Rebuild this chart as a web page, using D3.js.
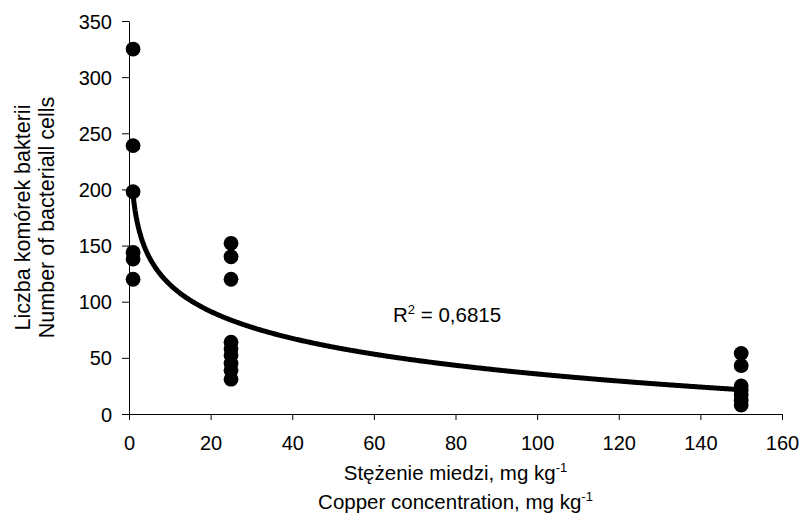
<!DOCTYPE html>
<html>
<head>
<meta charset="utf-8">
<script src="https://cdn.jsdelivr.net/npm/d3@7"></script>
<style>
  body { margin: 0; background: #fff; }
  text { font-family: "Liberation Sans", Arial, sans-serif; fill: #000; }
</style>
</head>
<body>
<svg id="chart"></svg>
<script>
// copper dose groups and measured cell counts
var xGroups = [1, 25, 150];
var countsAt1 = [325, 239, 198, 144, 138, 120];
var countsAt25 = [152, 140, 120, 64, 58, 52, 45, 39, 31];
var countsAt150 = [54, 43, 25, 21, 17, 12, 8];

// log trendline y = a*ln(x) + b
var trendA = -34.6;
var trendB = 195;
var rSquared = "0,6815";

var xTicks = [0, 20, 40, 60, 80, 100, 120, 140, 160];
var yTicks = [0, 50, 100, 150, 200, 250, 300, 350];

var points = [];
[countsAt1, countsAt25, countsAt150].forEach(function (arr, i) {
  arr.forEach(function (v) { points.push({ x: xGroups[i], y: v }); });
});

//svg sizes and margins
var width = 801, height = 517;
var margin = { top: 21, right: 19, bottom: 103, left: 129 };

var svg = d3.select("#chart")
    .attr("width", width)
    .attr("height", height);

var x = d3.scaleLinear().domain([0, 160]).range([margin.left, width - margin.right]);
var y = d3.scaleLinear().domain([0, 350]).range([height - margin.bottom, margin.top]);

// axes
var xAxis = svg.append("g")
    .attr("transform", "translate(0," + y(0) + ")")
    .call(d3.axisBottom(x).tickValues(xTicks).tickSize(6).tickSizeOuter(0).tickPadding(16));
var yAxis = svg.append("g")
    .attr("transform", "translate(" + x(0) + ",0)")
    .call(d3.axisLeft(y).tickValues(yTicks).tickSize(7).tickSizeOuter(0).tickPadding(10));

[xAxis, yAxis].forEach(function (g) {
  g.attr("font-size", null).attr("font-family", null);
  g.selectAll("text").style("font-size", "20px");
  g.selectAll("line, path").attr("stroke", "#000").attr("stroke-width", 1);
});
yAxis.selectAll("text").attr("dy", "0.35em");

// data dots
svg.append("g")
    .selectAll("circle")
    .data(points)
    .enter().append("circle")
    .attr("cx", function (d) { return x(d.x); })
    .attr("cy", function (d) { return y(d.y); })
    .attr("r", 7.4)
    .attr("fill", "#000");

// trendline
var trend = d3.range(1, 150.01, 0.25).map(function (v) {
  return { x: v, y: trendA * Math.log(v) + trendB };
});
svg.append("path")
    .datum(trend)
    .attr("fill", "none")
    .attr("stroke", "#000")
    .attr("stroke-width", 5)
    .attr("d", d3.line().x(function (d) { return x(d.x); }).y(function (d) { return y(d.y); }));

// R squared label
var r2 = svg.append("text")
    .attr("x", 393)
    .attr("y", 322)
    .style("font-size", "20.5px");
r2.append("tspan").text("R");
r2.append("tspan").attr("dy", -8).style("font-size", "13px").text("2");
r2.append("tspan").attr("dy", 8).text(" = " + rSquared);

// x axis title, two lines
function titleWithUnit(sel, label) {
  sel.append("tspan").text(label + "mg kg");
  sel.append("tspan").attr("dy", -8).style("font-size", "13px").text("-1");
}
var cx = (x(0) + x(160)) / 2;
titleWithUnit(svg.append("text").attr("x", cx).attr("y", 480)
    .attr("text-anchor", "middle").style("font-size", "20.5px"), "Stężenie miedzi, ");
titleWithUnit(svg.append("text").attr("x", cx).attr("y", 509)
    .attr("text-anchor", "middle").style("font-size", "20.5px"), "Copper concentration, ");

// y axis title, two lines
var cy = (y(0) + y(350)) / 2;
svg.append("text")
    .attr("transform", "translate(30," + cy + ") rotate(-90)")
    .attr("text-anchor", "middle")
    .style("font-size", "21.5px")
    .text("Liczba komórek bakterii");
svg.append("text")
    .attr("transform", "translate(54," + cy + ") rotate(-90)")
    .attr("text-anchor", "middle")
    .style("font-size", "21.5px")
    .text("Number of bacteriall cells");
</script>
</body>
</html>
